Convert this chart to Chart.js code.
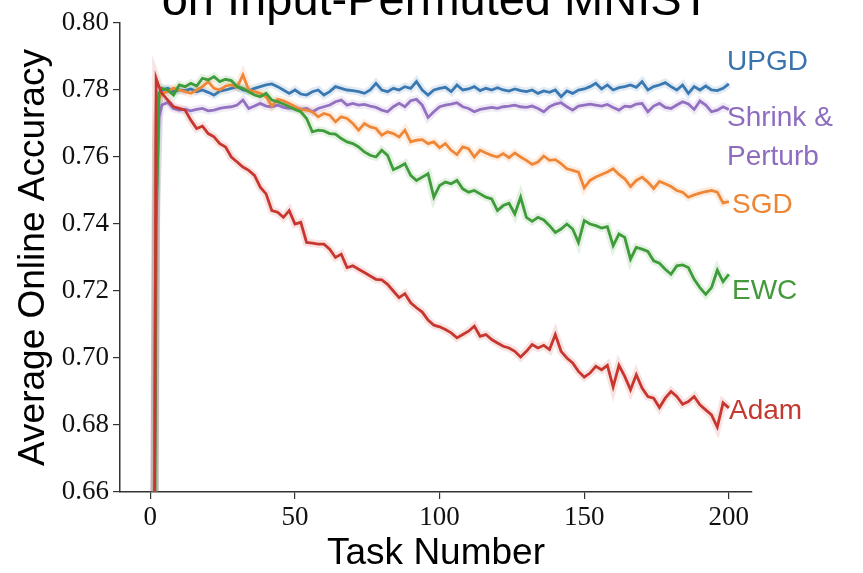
<!DOCTYPE html>
<html lang="en">
<head>
    <meta charset="UTF-8">
    <title>Average Online Accuracy on Input-Permuted MNIST</title>
    <style>
        body {
            margin: 0;
            padding: 0;
            background: #fff;
        }
        #chartBox {
            width: 863px;
            height: 573px;
        }
    </style>
</head>
<body>
    <div id="chartBox">
        <canvas id="accuracyChart" width="863" height="573"></canvas>
    </div>

    <script src="https://cdn.jsdelivr.net/npm/chart.js"></script>
    <script>
        // task numbers where each curve was sampled
        const tasks = [
            1, 2, 3, 4, 6, 8, 10, 12, 14, 16,
            18, 20, 22, 24, 26, 28, 30, 32, 34, 36,
            38, 40, 42, 44, 46, 48, 50, 52, 54, 56,
            58, 60, 62, 64, 66, 68, 70, 72, 74, 76,
            78, 80, 82, 84, 86, 88, 90, 92, 94, 96,
            98, 100, 102, 104, 106, 108, 110, 112, 114, 116,
            118, 120, 122, 124, 126, 128, 130, 132, 134, 136,
            138, 140, 142, 144, 146, 148, 150, 152, 154, 156,
            158, 160, 162, 164, 166, 168, 170, 172, 174, 176,
            178, 180, 182, 184, 186, 188, 190, 192, 194, 196,
            198, 200
        ];

        const upgd = [
            0.600, 0.765, 0.779, 0.7800, 0.7805, 0.7795, 0.7800, 0.7798, 0.7803, 0.7795,
            0.7800, 0.7793, 0.7785, 0.7797, 0.7800, 0.7805, 0.7810, 0.7800, 0.7797, 0.7805,
            0.7810, 0.7815, 0.7818, 0.7810, 0.7800, 0.7790, 0.7800, 0.7788, 0.7785, 0.7795,
            0.7800, 0.7785, 0.7795, 0.7810, 0.7805, 0.7800, 0.7798, 0.7795, 0.7790, 0.7800,
            0.7820, 0.7800, 0.7795, 0.7805, 0.7800, 0.7810, 0.7805, 0.7825, 0.7800, 0.7785,
            0.7800, 0.7805, 0.7808, 0.7795, 0.7815, 0.7800, 0.7803, 0.7810, 0.7798, 0.7805,
            0.7800, 0.7807, 0.7800, 0.7797, 0.7803, 0.7798, 0.7795, 0.7800, 0.7790, 0.7797,
            0.7793, 0.7800, 0.7780, 0.7797, 0.7790, 0.7800, 0.7803, 0.7810, 0.7820, 0.7803,
            0.7815, 0.7800, 0.7807, 0.7810, 0.7815, 0.7808, 0.7825, 0.7800, 0.7810, 0.7815,
            0.7822, 0.7810, 0.7800, 0.7815, 0.7790, 0.7810, 0.7800, 0.7812, 0.7800, 0.7798,
            0.7805, 0.7818
        ];

        const shrinkPerturb = [
            0.600, 0.745, 0.772, 0.7755, 0.7763, 0.7745, 0.7740, 0.7742, 0.7738, 0.7742,
            0.7745, 0.7738, 0.7740, 0.7745, 0.7748, 0.7750, 0.7755, 0.7770, 0.7745, 0.7752,
            0.7760, 0.7752, 0.7750, 0.7755, 0.7748, 0.7745, 0.7747, 0.7743, 0.7745, 0.7735,
            0.7745, 0.7750, 0.7755, 0.7765, 0.7770, 0.7755, 0.7760, 0.7755, 0.7757, 0.7752,
            0.7748, 0.7740, 0.7735, 0.7750, 0.7760, 0.7750, 0.7768, 0.7772, 0.7755, 0.7718,
            0.7735, 0.7750, 0.7755, 0.7758, 0.7762, 0.7750, 0.7745, 0.7735, 0.7742, 0.7745,
            0.7748, 0.7745, 0.7750, 0.7752, 0.7755, 0.7750, 0.7748, 0.7752, 0.7745, 0.7735,
            0.7750, 0.7758, 0.7762, 0.7750, 0.7740, 0.7752, 0.7755, 0.7758, 0.7755, 0.7752,
            0.7757, 0.7748, 0.7740, 0.7752, 0.7750, 0.7758, 0.7760, 0.7735, 0.7752, 0.7760,
            0.7748, 0.7745, 0.7755, 0.7765, 0.7758, 0.7742, 0.7767, 0.7755, 0.7735, 0.7740,
            0.7750, 0.7742
        ];

        const sgd = [
            0.600, 0.770, 0.7775, 0.7790, 0.7795, 0.7806, 0.7800, 0.7795, 0.7790, 0.7800,
            0.7810, 0.7825, 0.7805, 0.7800, 0.7812, 0.7815, 0.7808, 0.7845, 0.7800, 0.7795,
            0.7790, 0.7780, 0.7752, 0.7772, 0.7768, 0.7760, 0.7750, 0.7742, 0.7740, 0.7735,
            0.7720, 0.7730, 0.7725, 0.7705, 0.7720, 0.7715, 0.7700, 0.7680, 0.7700, 0.7690,
            0.7685, 0.7665, 0.7675, 0.7670, 0.7660, 0.7680, 0.7645, 0.7650, 0.7652, 0.7640,
            0.7645, 0.7628, 0.7640, 0.7620, 0.7607, 0.7630, 0.7625, 0.7600, 0.7620, 0.7612,
            0.7605, 0.7600, 0.7610, 0.7598, 0.7612, 0.7600, 0.7590, 0.7578, 0.7585, 0.7603,
            0.7590, 0.7592, 0.7580, 0.7565, 0.7560, 0.7555, 0.7508, 0.7530, 0.7540, 0.7548,
            0.7555, 0.7565, 0.7548, 0.7535, 0.7512, 0.7530, 0.7540, 0.7525, 0.7506, 0.7527,
            0.7520, 0.7512, 0.7500, 0.7495, 0.7480, 0.7487, 0.7492, 0.7497, 0.7500, 0.7495,
            0.7463, 0.7467
        ];

        const ewc = [
            0.550, 0.740, 0.7790, 0.7805, 0.7800, 0.7785, 0.7815, 0.7810, 0.7820, 0.7812,
            0.7835, 0.7830, 0.7840, 0.7825, 0.7832, 0.7828, 0.7810, 0.7805, 0.7795, 0.7785,
            0.7780, 0.7790, 0.7770, 0.7765, 0.7758, 0.7750, 0.7742, 0.7735, 0.7715, 0.7675,
            0.7680, 0.7678, 0.7670, 0.7668, 0.7655, 0.7645, 0.7640, 0.7630, 0.7615, 0.7605,
            0.7600, 0.7620, 0.7605, 0.7562, 0.7570, 0.7580, 0.7545, 0.7530, 0.7540, 0.7550,
            0.7480, 0.7515, 0.7525, 0.7520, 0.7530, 0.7505, 0.7495, 0.7500, 0.7490, 0.7480,
            0.7475, 0.7440, 0.7455, 0.7462, 0.7430, 0.7480, 0.7420, 0.7408, 0.7420, 0.7412,
            0.7395, 0.7375, 0.7385, 0.7400, 0.7385, 0.7345, 0.7410, 0.7400, 0.7395, 0.7388,
            0.7392, 0.7335, 0.7370, 0.7360, 0.7295, 0.7330, 0.7325, 0.7318, 0.7290, 0.7283,
            0.7265, 0.7250, 0.7275, 0.7278, 0.7270, 0.7235, 0.7210, 0.7190, 0.7210, 0.7262,
            0.7228, 0.7250
        ];

        const adam = [
            0.550, 0.7835, 0.7810, 0.7790, 0.7770, 0.7750, 0.7745, 0.7740, 0.7710, 0.7685,
            0.7692, 0.7670, 0.7660, 0.7640, 0.7630, 0.7600, 0.7585, 0.7570, 0.7560, 0.7545,
            0.7510, 0.7490, 0.7440, 0.7435, 0.7420, 0.7440, 0.7400, 0.7405, 0.7345, 0.7343,
            0.7340, 0.7340, 0.7325, 0.7300, 0.7310, 0.7270, 0.7275, 0.7265, 0.7255, 0.7245,
            0.7235, 0.7233, 0.7220, 0.7200, 0.7180, 0.7192, 0.7165, 0.7150, 0.7137, 0.7113,
            0.7098, 0.7093, 0.7085, 0.7075, 0.7060, 0.7070, 0.7080, 0.7095, 0.7065, 0.7070,
            0.7055, 0.7045, 0.7035, 0.7030, 0.7020, 0.7003, 0.7020, 0.7040, 0.7030, 0.7038,
            0.7025, 0.7070, 0.7020, 0.7000, 0.6985, 0.6960, 0.6943, 0.6955, 0.6975, 0.6965,
            0.6978, 0.6914, 0.6978, 0.6945, 0.6905, 0.6950, 0.6910, 0.6885, 0.6880, 0.6852,
            0.6880, 0.6900, 0.6885, 0.6862, 0.6870, 0.6885, 0.6860, 0.6845, 0.6830, 0.6794,
            0.6866, 0.6851
        ];

        const xTicks = [0, 50, 100, 150, 200];
        const yTicks = [0.66, 0.68, 0.70, 0.72, 0.74, 0.76, 0.78, 0.80];

        const seriesNames = ['UPGD', 'Shrink & Perturb', 'SGD', 'EWC', 'Adam'];
        const seriesData = [upgd, shrinkPerturb, sgd, ewc, adam];
        const lineColors = ['#3a78b2', '#9371c0', '#ef8738', '#3f9c3a', '#c8372f'];
        const bandColors = ['rgba(58,120,178,0.15)', 'rgba(147,113,192,0.15)', 'rgba(239,135,56,0.15)',
                            'rgba(63,156,58,0.14)', 'rgba(200,55,47,0.14)'];

        function toPoints(values) {
            return tasks.map((t, i) => ({ x: t, y: values[i] }));
        }

        // light shaded band under each curve, then the curves themselves
        const datasets = [];
        seriesData.forEach((values, i) => {
            datasets.push({
                label: seriesNames[i] + ' band',
                data: toPoints(values),
                borderColor: bandColors[i],
                borderWidth: 8,
                pointRadius: 0,
                tension: 0,
                order: 10
            });
        });
        seriesData.forEach((values, i) => {
            datasets.push({
                label: seriesNames[i],
                data: toPoints(values),
                borderColor: lineColors[i],
                borderWidth: 2.8,
                pointRadius: 0,
                tension: 0,
                order: 5 - i
            });
        });

        // text drawn next to the line ends and the cut-off title
        const endLabels = [
            { lines: ['UPGD'], x: 727, y: 62, color: '#3b74ad' },
            { lines: ['Shrink &', 'Perturb'], x: 727, y: 118, color: '#8e6cbf' },
            { lines: ['SGD'], x: 732, y: 205, color: '#ec8534' },
            { lines: ['EWC'], x: 732, y: 291, color: '#43993b' },
            { lines: ['Adam'], x: 729, y: 411, color: '#c23b33' }
        ];

        const labelPlugin = {
            id: 'endLabels',
            afterDraw(chart) {
                const ctx = chart.ctx;
                ctx.save();
                ctx.font = '28px "Liberation Sans", Arial, sans-serif';
                ctx.textAlign = 'left';
                ctx.textBaseline = 'middle';
                endLabels.forEach(lab => {
                    ctx.fillStyle = lab.color;
                    lab.lines.forEach((txt, k) => {
                        ctx.fillText(txt, lab.x, lab.y + k * 39);
                    });
                });
                ctx.fillStyle = '#000';
                ctx.textAlign = 'center';
                ctx.textBaseline = 'alphabetic';
                ctx.font = '47px "Liberation Sans", Arial, sans-serif';
                ctx.fillText('on Input-Permuted MNIST', 436, 15);
                ctx.restore();
            }
        };

        const serifTicks = { family: '"Liberation Serif", "DejaVu Serif", serif', size: 27 };

        new Chart(document.getElementById('accuracyChart').getContext('2d'), {
            type: 'line',
            data: { datasets: datasets },
            plugins: [labelPlugin],
            options: {
                responsive: false,
                animation: false,
                layout: { padding: { top: 23, right: 111, left: 0, bottom: 0 } },
                plugins: {
                    legend: { display: false },
                    tooltip: { enabled: false }
                },
                scales: {
                    x: {
                        type: 'linear',
                        min: -10.5,
                        max: 208,
                        afterFit(scale) { scale.height = 81; },
                        afterBuildTicks(scale) { scale.ticks = xTicks.map(v => ({ value: v })); },
                        grid: { drawOnChartArea: false, drawTicks: true, tickLength: 7, color: '#333', lineWidth: 1.2 },
                        border: { display: true, color: '#333', width: 1.5 },
                        ticks: { color: '#111', font: serifTicks, padding: 3, maxRotation: 0 },
                        title: {
                            display: true,
                            text: 'Task Number',
                            color: '#000',
                            font: { family: '"Liberation Sans", "DejaVu Sans", sans-serif', size: 37, lineHeight: 1 },
                            padding: { top: 0, bottom: 1 }
                        }
                    },
                    y: {
                        min: 0.66,
                        max: 0.80,
                        afterFit(scale) { scale.width = 120; },
                        afterBuildTicks(scale) { scale.ticks = yTicks.map(v => ({ value: v })); },
                        grid: { drawOnChartArea: false, drawTicks: true, tickLength: 7, color: '#333', lineWidth: 1.2 },
                        border: { display: true, color: '#333', width: 1.5 },
                        ticks: {
                            color: '#111',
                            font: serifTicks,
                            padding: 4,
                            callback: v => v.toFixed(2)
                        },
                        title: {
                            display: true,
                            text: 'Average Online Accuracy',
                            color: '#000',
                            font: { family: '"Liberation Sans", "DejaVu Sans", sans-serif', size: 37, lineHeight: 1 },
                            padding: { top: 15, bottom: 0 }
                        }
                    }
                }
            }
        });
    </script>
</body>
</html>
